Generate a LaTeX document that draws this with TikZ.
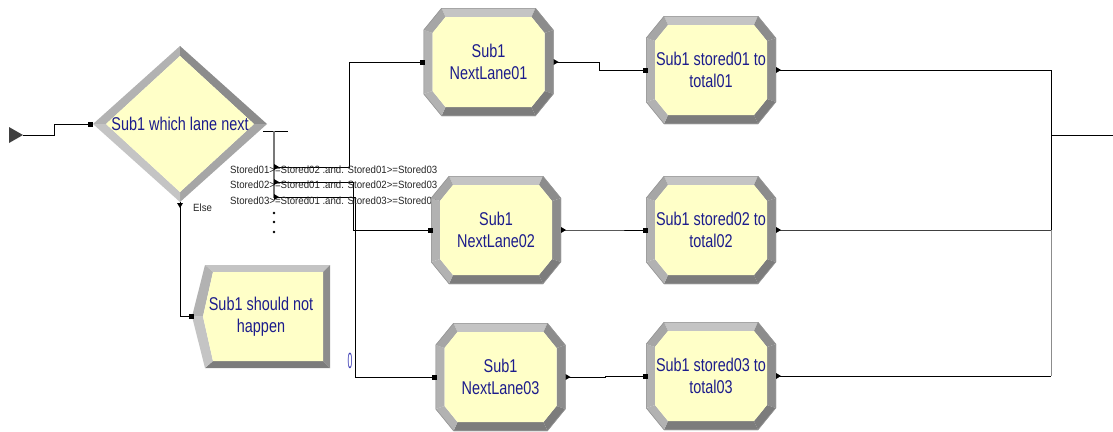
\documentclass[tikz,border=0pt]{standalone}
\usepackage{fontspec}
\newfontfamily\boxfont{Liberation Sans}[FakeStretch=0.78]
\newfontfamily\condfont{Liberation Sans}[FakeStretch=0.92]

\definecolor{fillY}{RGB}{255,255,200}
\definecolor{navy}{RGB}{28,28,140}
\definecolor{bvLight}{RGB}{196,196,196}
\definecolor{bvSide}{RGB}{178,178,178}
\definecolor{bvCorner}{RGB}{166,166,166}
\definecolor{bvDark}{RGB}{140,140,140}
\definecolor{bvDeep}{RGB}{124,124,124}
\definecolor{bvEdge}{RGB}{150,150,150}
\definecolor{wireGray}{RGB}{120,120,120}
\definecolor{zeroBlue}{RGB}{60,60,180}

\pgfdeclarelayer{wires}
\pgfdeclarelayer{shapes}
\pgfsetlayers{wires,shapes,main}

\newcommand\outport[1]{\fill (#1) ++(0,-3) -- ++(5,3) -- ++(-5,3) -- cycle;}

% process module frame: chamfered rectangle (130 x 108) with a bevel
\newcommand\procframe[1]{%
  \begin{scope}[shift={(#1.south west)}, x=1pt, y=1pt]
    \fill[bvLight]  (18,108) -- (112,108) -- (108,99) -- (22,99) -- cycle;
    \fill[bvDark]   (112,108) -- (130,86) -- (121,83) -- (108,99) -- cycle;
    \fill[bvDark]   (130,86) -- (130,22) -- (121,25) -- (121,83) -- cycle;
    \fill[bvDeep]   (130,22) -- (112,0) -- (108,9) -- (121,25) -- cycle;
    \fill[bvDeep]   (112,0) -- (18,0) -- (22,9) -- (108,9) -- cycle;
    \fill[bvSide]   (18,0) -- (0,22) -- (9,25) -- (22,9) -- cycle;
    \fill[bvSide]   (0,22) -- (0,86) -- (9,83) -- (9,25) -- cycle;
    \fill[bvCorner] (0,86) -- (18,108) -- (22,99) -- (9,83) -- cycle;
    \fill[fillY] (22,99) -- (108,99) -- (121,83) -- (121,25) -- (108,9)
                 -- (22,9) -- (9,25) -- (9,83) -- cycle;
    \draw[bvEdge, line width=0.6pt] (18,107.7) -- (112,107.7) -- (129.7,86)
         -- (129.7,22) -- (112,0.3) -- (18,0.3) -- (0.3,22) -- (0.3,86) -- cycle;
  \end{scope}}

% decision module frame: bevelled diamond (174 x 156)
\newcommand\decideframe[1]{%
  \begin{scope}[shift={(#1.south west)}, x=1pt, y=1pt]
    \fill[bvSide]   (0,78) -- (87,156) -- (87,146) -- (13,78) -- cycle;
    \fill[bvDark]   (87,156) -- (174,78) -- (161,78) -- (87,146) -- cycle;
    \fill[bvCorner] (174,78) -- (87,0) -- (87,10) -- (161,78) -- cycle;
    \fill[bvLight]  (87,0) -- (0,78) -- (13,78) -- (87,10) -- cycle;
    \fill[fillY] (13,78) -- (87,146) -- (161,78) -- (87,10) -- cycle;
  \end{scope}}

% dispose module frame: bevelled pentagon pointing left (138 x 103)
\newcommand\disposeframe[1]{%
  \begin{scope}[shift={(#1.south west)}, x=1pt, y=1pt]
    \fill[bvLight]  (13,103) -- (138,103) -- (131,96) -- (21,96) -- cycle;
    \fill[bvDark]   (138,103) -- (138,0) -- (131,7) -- (131,96) -- cycle;
    \fill[bvDeep]   (138,0) -- (13,0) -- (21,7) -- (131,7) -- cycle;
    \fill[bvLight]  (13,0) -- (0,51.5) -- (11,51.5) -- (21,7) -- cycle;
    \fill[bvSide]   (0,51.5) -- (13,103) -- (21,96) -- (11,51.5) -- cycle;
    \fill[fillY] (11,51.5) -- (21,96) -- (131,96) -- (131,7) -- (21,7) -- cycle;
  \end{scope}}

\tikzset{
  wire/.style={draw=black, line width=0.9pt},
  gwire/.style={draw=wireGray, line width=1.4pt},
  inport/.style={rectangle, fill=black, minimum size=5pt, inner sep=0pt},
  cond/.style={anchor=west, inner sep=0pt, text=black!85, font=\condfont\fontsize{10.5}{12}\selectfont},
  module/.style={rectangle, inner sep=0pt, outer sep=0pt, align=center, text=navy,
    font=\boxfont\fontsize{18.5}{22}\selectfont},
  procbox/.style={module, minimum width=130pt, minimum height=108pt},
  decidebox/.style={module, minimum width=174pt, minimum height=156pt},
  disposebox/.style={module, minimum width=138pt, minimum height=103pt},
}

\begin{document}
\begin{tikzpicture}[x=1pt, y=-1pt]
\useasboundingbox (0,0) rectangle (1113,431);

% modules
\node[decidebox]  (dec)  at (180,124)   {Sub1 which lane next};
\node[disposebox] (disp) at (261,316.5) {Sub1 should not\\happen};
\node[procbox] (nl1) at (488.5,62)  {Sub1\\NextLane01};
\node[procbox] (nl2) at (496,230)   {Sub1\\NextLane02};
\node[procbox] (nl3) at (500.5,377) {Sub1\\NextLane03};
\node[procbox] (st1) at (711,70)    {Sub1 stored01 to\\total01};
\node[procbox] (st2) at (711,230)   {Sub1 stored02 to\\total02};
\node[procbox] (st3) at (711,376)   {Sub1 stored03 to\\total03};

\begin{pgfonlayer}{shapes}
  \decideframe{dec}
  \disposeframe{disp}
  \foreach \m in {nl1,nl2,nl3,st1,st2,st3} {\procframe{\m}}
\end{pgfonlayer}

% connection points
\coordinate (entry)    at (23,135);
\coordinate (decout)   at (263,131);
\coordinate (decend)   at (288,131);
\coordinate (split)    at (274,131);
\coordinate (splitend) at (274,198);
\coordinate (br1) at (274,167);
\coordinate (br2) at (274,182);
\coordinate (br3) at (274,197);
\coordinate (mtop) at (1051,70);
\coordinate (exit) at (1113,135);

\begin{pgfonlayer}{wires}
  % entry point
  \fill[black!75] (9,127) -- (entry) -- (9,143) -- cycle;
  \draw[wire] (entry) -- ++(31,0) |- (dec.west);

  % decision outputs
  \draw[wire] (decout) -- (decend);
  \draw[gwire] (split) -- (splitend);
  \draw[wire] (br1) -- ++(75,0) |- (nl1.west);
  \draw[wire] (br2) -- ++(79,0) |- (nl2.west);
  \draw[wire] (br3) -- ++(81,0) |- (nl3.west);
  \draw[wire] (dec.south) |- (disp.west);

  \node[cond] (c1) at (230,170) {Stored01>=Stored02 .and. Stored01>=Stored03};
  \node[cond] (c2) at (230,185) {Stored02>=Stored01 .and. Stored02>=Stored03};
  \node[cond] (c3) at (230,201) {Stored03>=Stored01 .and. Stored03>=Stored03};
  \node[cond] (elselbl) at (193,208) {Else};

  % lanes
  \draw[wire] (nl1.east) -- ++(46,0) |- (st1.west);
  \draw[wire] (nl2.east) -- ++(42,0) |- (st2.west);
  \draw[wire] (nl3.east) -- ++(40,0) |- (st3.west);

  % merge on the right
  \draw[wire] (st1.east) -- (st1.east -| mtop);
  \draw[wire, draw=black!75] (st2.east) -- (st2.east -| mtop);
  \draw[wire] (st3.east) -- (st3.east -| mtop);
  \draw[wire] (st1.east -| mtop) -- (st2.east -| mtop);
  \draw[wire, draw=black!45] (st2.east -| mtop) -- (st3.east -| mtop);
  \draw[wire] (exit -| mtop) -- (exit);
\end{pgfonlayer}

% branch markers
\outport{br1}
\outport{br2}
\outport{br3}
\fill (274,213) circle (1.3);
\fill (274,222) circle (1.3);
\fill (274,232) circle (1.3);
\fill (dec.south) ++(-3,1) -- ++(6,0) -- ++(-3,5) -- cycle;

\node[text=zeroBlue, inner sep=0pt, font=\boxfont\fontsize{22}{22}\selectfont] (zero) at (350,361) {\scalebox{0.5}[1]{0}};

% ports
\node[inport] (pdec) at ([xshift=-3pt]dec.west) {};
\node[inport] (pdisp) at ([xshift=-1pt]disp.west) {};
\foreach \m in {nl1,nl2,nl3,st1,st2,st3} {
  \node[inport] (p\m) at ([xshift=-1pt]\m.west) {};
  \outport{\m.east}
}
\end{tikzpicture}
\end{document}
